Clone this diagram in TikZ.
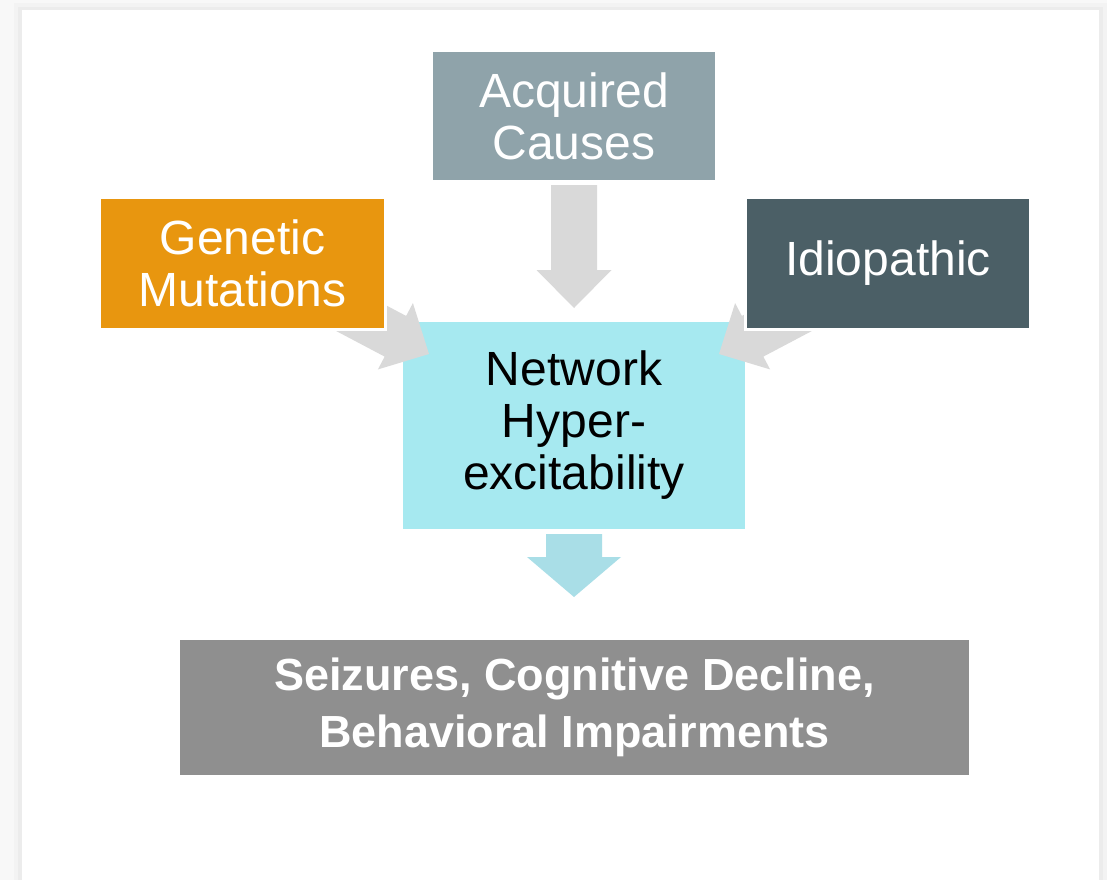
\documentclass[tikz,border=0pt]{standalone}
\usepackage{fontspec}
\setmainfont{Liberation Sans}
\usetikzlibrary{calc}

\definecolor{pagebg}{RGB}{248,248,248}
\definecolor{shadeA}{RGB}{243,243,243}
\definecolor{shadeB}{RGB}{236,236,236}
\definecolor{acquired}{RGB}{143,163,170}
\definecolor{genetic}{RGB}{232,150,15}
\definecolor{idiopathic}{RGB}{75,95,102}
\definecolor{network}{RGB}{166,233,240}
\definecolor{outcome}{RGB}{143,143,143}
\definecolor{flowgray}{RGB}{217,217,217}
\definecolor{flowcyan}{RGB}{169,222,231}

\tikzset{
  box/.style={rectangle, draw=white, line width=3pt, inner sep=0pt, align=center,
    text=white, font=\fontsize{48}{52}\selectfont},
  grayflow/.style={fill=flowgray},
  cyanflow/.style={fill=flowcyan},
}

\begin{document}
\begin{tikzpicture}[x=1pt,y=-1pt]
  % page and card
  \fill[pagebg] (0,0) rectangle (1107,880);
  \useasboundingbox (0,0) rectangle (1107,880);
  \fill[shadeA] (14,3) rectangle (1107,880);
  \fill[shadeB] (18,7) rectangle (1103,880);
  \fill[white] (22,10) rectangle (1099,880);

  % central node
  \node[box, fill=network, text=black, draw=none, minimum width=342pt, minimum height=207pt]
    (net) at (574,425.5) {Network\\Hyper-\\excitability};

  % arrows into the central node
  \coordinate (acq-tail) at (574,185);
  \coordinate (acq-tip) at (574,308);
  \coordinate (gen-tail) at (321,297);
  \coordinate (gen-tip) at (429,354);
  \coordinate (idi-tail) at (827,297);
  \coordinate (idi-tip) at (719,354);

  \fill[grayflow]
    ($(acq-tail)+(-23,0)$) -- ($(acq-tip)+(-23,-38)$) -- ($(acq-tip)+(-37.5,-38)$) -- (acq-tip)
    -- ($(acq-tip)+(37.5,-38)$) -- ($(acq-tip)+(23,-38)$) -- ($(acq-tail)+(23,0)$) -- cycle;

  \foreach \t/\p in {gen-tail/gen-tip, idi-tail/idi-tip}{
    \coordinate (j) at ($(\p)!38pt!(\t)$);
    \fill[grayflow]
      ($(\t)!23pt!90:(\p)$) -- ($(j)!23pt!-90:(\t)$) -- ($(j)!37.5pt!-90:(\t)$) -- (\p)
      -- ($(j)!37.5pt!90:(\t)$) -- ($(j)!23pt!90:(\t)$) -- ($(\t)!23pt!-90:(\p)$) -- cycle;
  }

  % cause nodes
  \node[box, fill=acquired, minimum width=285pt, minimum height=131pt]
    (acq) at (574,116) {Acquired\\Causes};
  \node[box, fill=genetic, minimum width=286pt, minimum height=132pt]
    (gen) at (242.5,263.5) {Genetic\\Mutations};
  \node[box, fill=idiopathic, minimum width=285pt, minimum height=132pt]
    (idi) at (888,263.5) {Idiopathic};

  % arrow to the outcome
  \coordinate (out-tail) at (574,534);
  \coordinate (out-tip) at (574,597);
  \fill[cyanflow]
    ($(out-tail)+(-28,0)$) -- ($(out-tip)+(-28,-40)$) -- ($(out-tip)+(-47,-40)$) -- (out-tip)
    -- ($(out-tip)+(47,-40)$) -- ($(out-tip)+(28,-40)$) -- ($(out-tail)+(28,0)$) -- cycle;

  % outcome node
  \node[box, fill=outcome, draw=none, minimum width=789pt, minimum height=135pt,
        font=\fontsize{45}{57}\selectfont\bfseries]
    (out) at (574.5,707) {Seizures, Cognitive Decline,\\Behavioral Impairments};
\end{tikzpicture}
\end{document}
